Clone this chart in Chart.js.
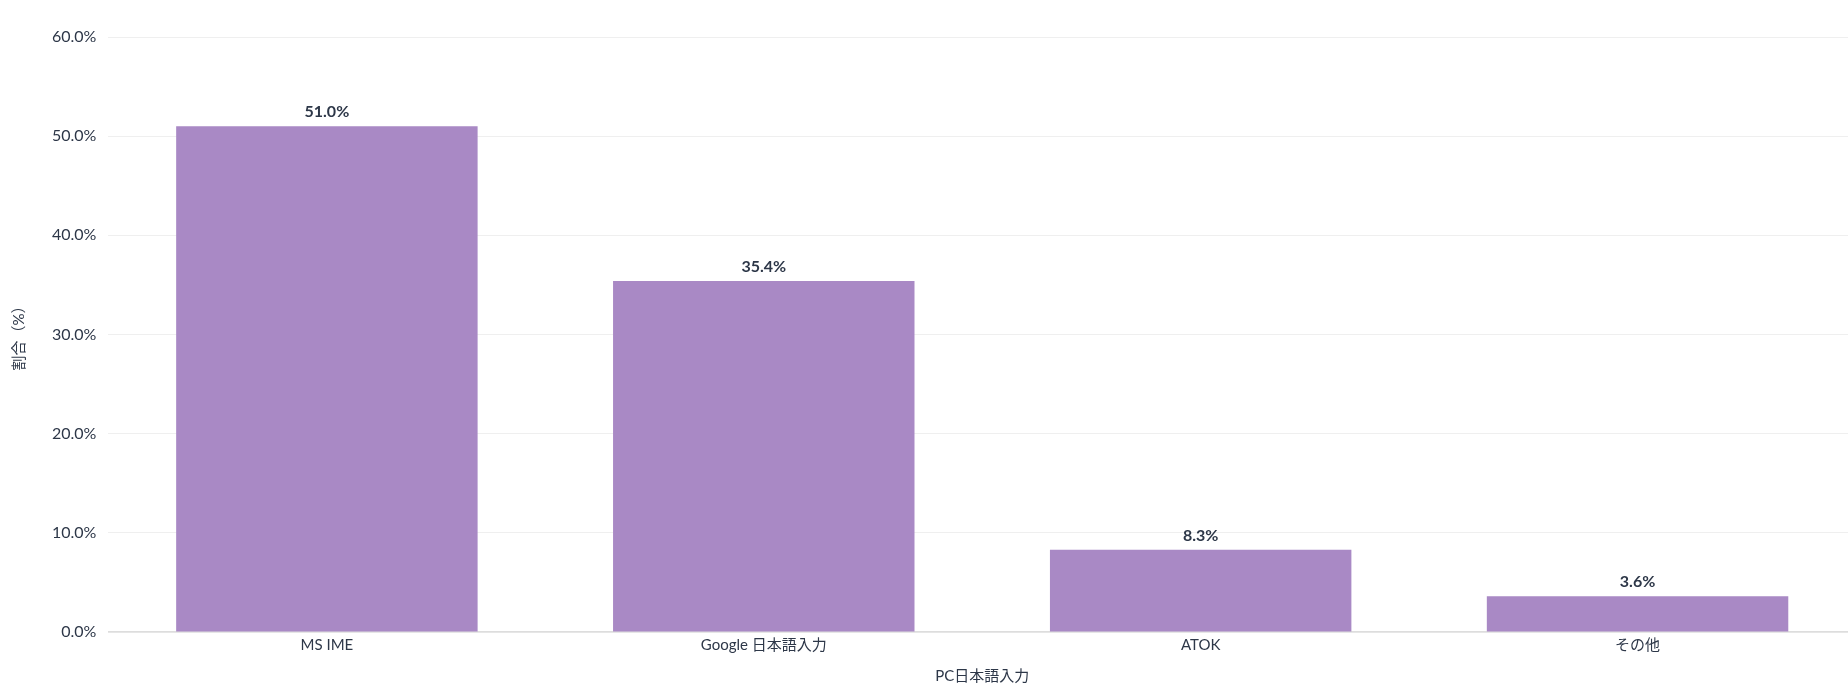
<!DOCTYPE html>
<html lang="ja">
<head>
<meta charset="utf-8">
<script src="https://cdn.jsdelivr.net/npm/chart.js@4"></script>
<style>
  html, body { margin: 0; padding: 0; background: #fff; overflow: hidden; }
  #wrap { width: 1856px; height: 696px; position: relative; }
</style>
</head>
<body>
<div id="wrap"><canvas id="imeChart"></canvas></div>
<script>
const categories = ['MS IME', 'Google 日本語入力', 'ATOK', 'その他'];
const shares = [51.0, 35.4, 8.3, 3.6];
const yTicks = [0, 10, 20, 30, 40, 50, 60];

const textColor = '#2d3748';
const fontFamily = "Lato, 'Noto Sans CJK JP', sans-serif";

// draw value labels above each bar
const barLabels = {
    id: 'barLabels',
    afterDatasetsDraw(chart) {
        const ctx = chart.ctx;
        const meta = chart.getDatasetMeta(0);
        ctx.save();
        ctx.font = "bold 16px " + fontFamily;
        ctx.fillStyle = textColor;
        ctx.textAlign = 'center';
        ctx.textBaseline = 'bottom';
        meta.data.forEach(function(bar, i) {
            ctx.fillText(shares[i].toFixed(1) + '%', bar.x, bar.y - 6);
        });
        ctx.restore();
    }
};

new Chart(document.getElementById('imeChart').getContext('2d'), {
    type: 'bar',
    data: {
        labels: categories,
        datasets: [{
            label: '割合',
            data: shares,
            backgroundColor: '#a989c5',
            borderWidth: 0,
            barPercentage: 0.69,
            categoryPercentage: 1.0
        }]
    },
    options: {
        responsive: true,
        maintainAspectRatio: false,
        animation: false,
        layout: {
            padding: { top: 37, right: 0, bottom: 11, left: 10 }
        },
        plugins: {
            legend: { display: false },
            tooltip: { enabled: false }
        },
        scales: {
            y: {
                min: 0,
                max: 60,
                afterBuildTicks: function(axis) {
                    axis.ticks = yTicks.map(v => ({ value: v }));
                },
                ticks: {
                    color: textColor,
                    padding: 12,
                    font: { family: fontFamily, size: 16 },
                    callback: function(value) {
                        return Number(value).toFixed(1) + '%';
                    }
                },
                grid: {
                    color: '#efefef',
                    drawTicks: false
                },
                border: { display: false },
                title: {
                    display: true,
                    text: '割合（%）',
                    color: textColor,
                    font: { family: fontFamily, size: 15 },
                    padding: { top: 0, bottom: 12 }
                }
            },
            x: {
                ticks: {
                    color: textColor,
                    padding: 4,
                    font: { family: fontFamily, size: 15 }
                },
                grid: {
                    display: false,
                    drawTicks: false
                },
                border: { display: true, color: '#dddddd', width: 1.5 },
                title: {
                    display: true,
                    text: 'PC日本語入力',
                    color: textColor,
                    font: { family: fontFamily, size: 15 },
                    padding: { top: 9, bottom: 0 }
                }
            }
        }
    },
    plugins: [barLabels]
});
</script>
</body>
</html>
